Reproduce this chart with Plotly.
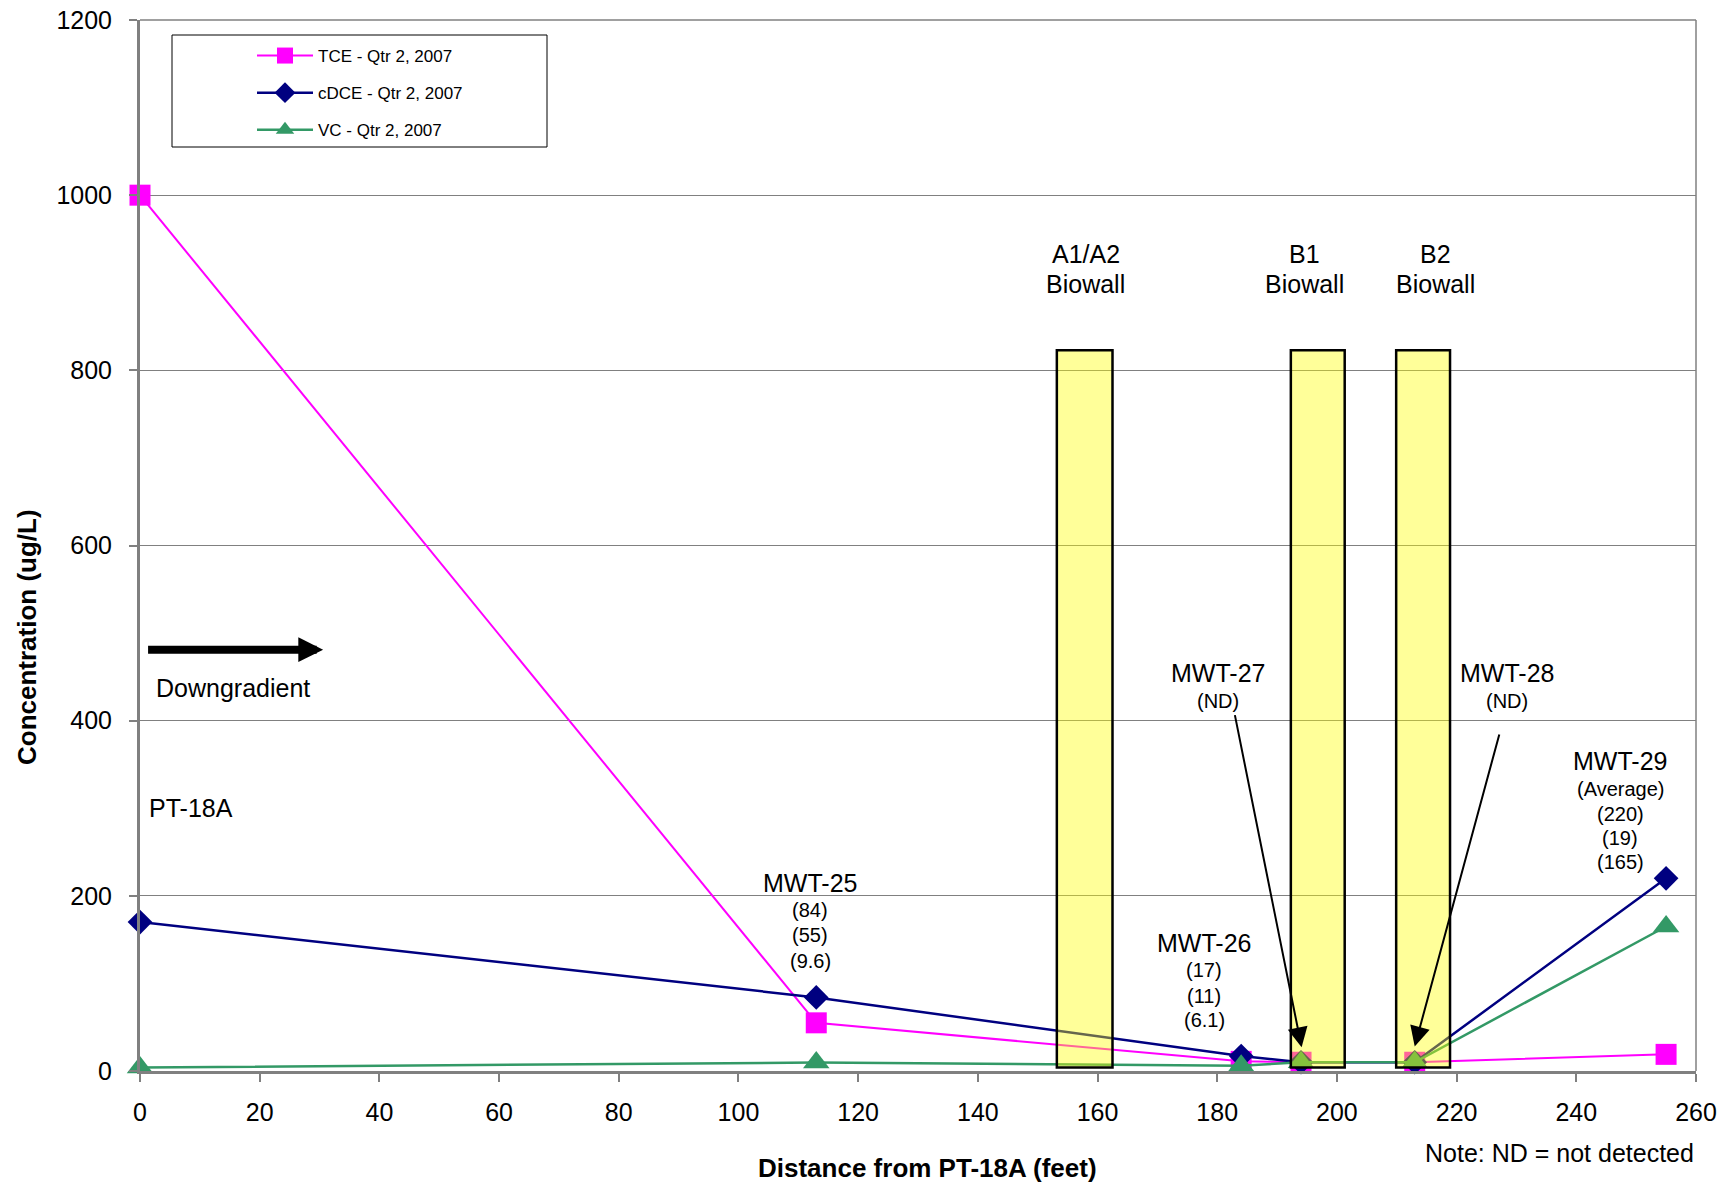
import plotly.graph_objects as go

# ---- data ----
distance_ft = [0, 113, 184, 194, 213, 255]
tce = [1000, 55, 11, 10, 10, 19]
cdce = [170, 84, 17, 10, 10, 220]
vc = [4, 9.6, 6.1, 10, 10, 165]
series_names = ["TCE - Qtr 2, 2007", "cDCE - Qtr 2, 2007", "VC - Qtr 2, 2007"]

biowall_names = ["A1/A2", "B1", "B2"]
biowall_x0 = [153.2, 192.3, 209.9]
biowall_x1 = [162.5, 201.3, 218.9]
biowall_bottom = 4
biowall_top = 823

x_ticks = list(range(0, 261, 20))
y_ticks = list(range(0, 1201, 200))

FONT = "Liberation Sans, Arial, sans-serif"

fig = go.Figure()
fig.add_trace(go.Scatter(x=distance_ft, y=tce, name=series_names[0], mode="lines+markers",
                         line=dict(color="#FF00FF", width=2),
                         marker=dict(symbol="square", size=21, color="#FF00FF"),
                         cliponaxis=False, legendgroup="a"))
fig.add_trace(go.Scatter(x=distance_ft, y=cdce, name=series_names[1], mode="lines+markers",
                         line=dict(color="#000080", width=2.5),
                         marker=dict(symbol="diamond", size=19, color="#000080"),
                         cliponaxis=False, legendgroup="b"))
fig.add_trace(go.Scatter(x=distance_ft, y=vc, name=series_names[2], mode="lines+markers",
                         line=dict(color="#339966", width=2.5),
                         marker=dict(symbol="triangle-up", size=23, color="#339966"),
                         cliponaxis=False, legendgroup="c"))

shapes = []
for x0, x1 in zip(biowall_x0, biowall_x1):
    shapes.append(dict(type="rect", xref="x", yref="y", x0=x0, x1=x1, y0=biowall_bottom, y1=biowall_top,
                       fillcolor="rgba(255,255,0,0.4)", line=dict(color="black", width=2.5), layer="above"))
# right and top border of plot area
shapes.append(dict(type="line", xref="paper", yref="paper", x0=1, x1=1, y0=0, y1=1,
                   line=dict(color="#808080", width=1.5)))
shapes.append(dict(type="line", xref="paper", yref="paper", x0=0, x1=1, y0=1, y1=1,
                   line=dict(color="#808080", width=1.5)))
# legend box
shapes.append(dict(type="rect", xref="paper", yref="paper",
                   x0=(172 - 140) / 1556, x1=(547 - 140) / 1556,
                   y0=(1071 - 147) / 1051, y1=(1071 - 35) / 1051,
                   line=dict(color="black", width=1), fillcolor="white", layer="below"))

ann = []
def txt(x, y, s, size=25, xanchor="center"):
    ann.append(dict(x=x, y=y, xref="x", yref="y", text=s, showarrow=False,
                    font=dict(size=size, color="black", family=FONT), xanchor=xanchor, yanchor="middle"))

# biowall labels
txt(158.0, 933, "A1/A2"); txt(158.0, 899, "Biowall")
txt(194.5, 933, "B1"); txt(194.5, 899, "Biowall")
txt(216.5, 933, "B2"); txt(216.5, 899, "Biowall")

txt(1.1, 300, "PT-18A", xanchor="left")
txt(2.4, 437, "Downgradient", xanchor="left")

txt(112, 215, "MWT-25")
for yy, s in zip([184, 155, 126], ["(84)", "(55)", "(9.6)"]):
    txt(112, yy, s, size=20)
txt(177.8, 146, "MWT-26")
for yy, s in zip([115, 86, 58], ["(17)", "(11)", "(6.1)"]):
    txt(177.8, yy, s, size=20)
txt(180.2, 455, "MWT-27"); txt(180.2, 423, "(ND)", size=20)
txt(228.4, 455, "MWT-28"); txt(228.4, 423, "(ND)", size=20)
txt(247.3, 354, "MWT-29")
for yy, s in zip([322, 294, 266, 239], ["(Average)", "(220)", "(19)", "(165)"]):
    txt(247.3, yy, s, size=20)

# arrows
ann.append(dict(x=194.1, y=27, ax=182.9, ay=408, xref="x", yref="y", axref="x", ayref="y",
                text="", showarrow=True, arrowhead=2, arrowsize=2.0, arrowwidth=2, arrowcolor="black"))
ann.append(dict(x=213.0, y=28, ax=227.2, ay=386, xref="x", yref="y", axref="x", ayref="y",
                text="", showarrow=True, arrowhead=2, arrowsize=2.0, arrowwidth=2, arrowcolor="black"))
ann.append(dict(x=30.6, y=481, ax=1.1, ay=481, xref="x", yref="y", axref="x", ayref="y",
                text="", showarrow=True, arrowhead=2, arrowsize=0.62, arrowwidth=8, arrowcolor="black"))

ann.append(dict(x=1, y=(1071 - 1153) / 1051, xref="paper", yref="paper", text="Note: ND = not detected",
                showarrow=False, xanchor="right", yanchor="middle",
                font=dict(size=25, color="black", family=FONT)))

# axis titles (placed off-centre as in the original)
ann.append(dict(x=(927 - 140) / 1556, y=(1071 - 1168) / 1051, xref="paper", yref="paper",
                text="<b>Distance from PT-18A (feet)</b>", showarrow=False, xanchor="center", yanchor="middle",
                font=dict(size=26, color="black", family=FONT)))
ann.append(dict(x=(27 - 140) / 1556, y=(1071 - 637) / 1051, xref="paper", yref="paper",
                text="<b>Concentration (ug/L)</b>", showarrow=False, xanchor="center", yanchor="middle",
                textangle=-90, font=dict(size=26, color="black", family=FONT)))

fig.update_layout(
    width=1721, height=1184,
    margin=dict(l=140, r=25, t=20, b=113, autoexpand=False),
    paper_bgcolor="white", plot_bgcolor="white",
    font=dict(family=FONT, color="black"),
    shapes=shapes, annotations=ann,
    showlegend=True,
    legend=dict(x=(252 - 140) / 1556, y=(1071 - 38) / 1051, xanchor="left", yanchor="top",
                bgcolor="rgba(0,0,0,0)", borderwidth=0, font=dict(size=17, family=FONT, color="black"),
                tracegroupgap=12, itemwidth=56),
)
fig.update_xaxes(range=[0, 260], tickvals=x_ticks, ticks="outside", ticklen=8, tickwidth=2,
                 tickcolor="#808080", showline=True, linecolor="#808080", linewidth=3,
                 showgrid=False, zeroline=False, tickfont=dict(size=25, family=FONT),
                 ticklabelstandoff=9, automargin=False, ticklabeloverflow="allow")
fig.update_yaxes(range=[0, 1200], tickvals=y_ticks, ticks="outside", ticklen=8, tickwidth=2,
                 tickcolor="#808080", showline=True, linecolor="#808080", linewidth=3,
                 showgrid=True, gridcolor="#808080", gridwidth=1, zeroline=False,
                 tickfont=dict(size=25, family=FONT), ticklabelstandoff=12, automargin=False,
                 ticklabeloverflow="allow")

# remove the browser's default 8px body margin so the figure fills the window exactly
fig.write_html("out.html", config={"displayModeBar": False},
               post_script="document.body.style.margin='0';document.body.style.overflow='hidden';")
